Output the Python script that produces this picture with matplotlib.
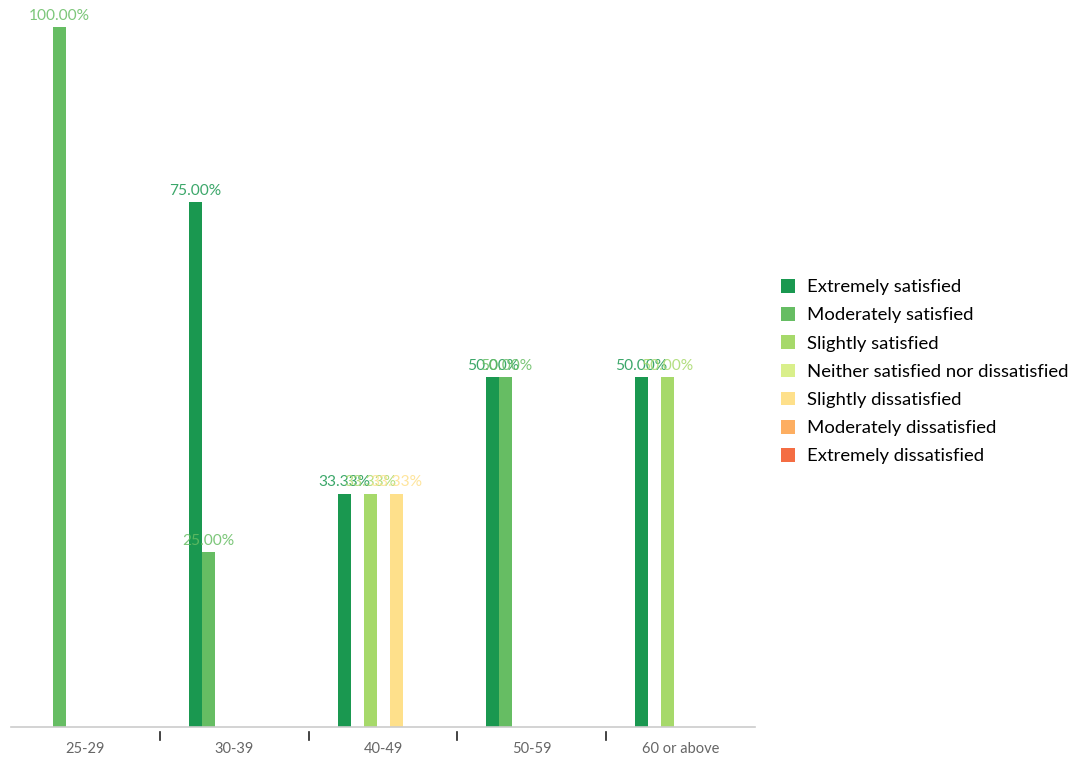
import matplotlib.pyplot as plt
import numpy as np

plt.rcParams["font.family"] = ["Lato", "DejaVu Sans"]

age_groups = ["25-29", "30-39", "40-49", "50-59", "60 or above"]
responses = [
    "Extremely satisfied",
    "Moderately satisfied",
    "Slightly satisfied",
    "Neither satisfied nor dissatisfied",
    "Slightly dissatisfied",
    "Moderately dissatisfied",
    "Extremely dissatisfied",
]
colors = ["#1a9850", "#66bd63", "#a6d96a", "#d9ef8b", "#fee08b", "#fdae61", "#f46d43"]

# percent of each age group giving each response (None = no responses)
extremely_satisfied = [None, 75.0, 33.33, 50.0, 50.0]
moderately_satisfied = [100.0, 25.0, None, 50.0, None]
slightly_satisfied = [None, None, 33.33, None, 50.0]
neither = [None, None, None, None, None]
slightly_dissatisfied = [None, None, 33.33, None, None]
moderately_dissatisfied = [None, None, None, None, None]
extremely_dissatisfied = [None, None, None, None, None]

series = [
    extremely_satisfied,
    moderately_satisfied,
    slightly_satisfied,
    neither,
    slightly_dissatisfied,
    moderately_dissatisfied,
    extremely_dissatisfied,
]

fig = plt.figure(figsize=(10.8, 7.57), dpi=100)
ax = fig.add_axes([11 / 1080, 30 / 757, 744 / 1080, 700 / 757])

bar_w = 13 / 148.8
centers = np.arange(len(age_groups)) + 0.5
n = len(responses)

for i, (name, vals, color) in enumerate(zip(responses, series, colors)):
    offset = (i - (n - 1) / 2) * bar_w
    for c, v in zip(centers, vals):
        if v is None:
            continue
        x = c + offset
        ax.bar(x, v, width=bar_w, color=color, linewidth=0)
        ax.text(x, v + 0.6, f"{v:.2f}%", ha="center", va="bottom",
                fontsize=11.2, color=color, alpha=0.85, clip_on=False)
    # legend handle
    ax.bar(0, 0, width=0, color=color, label=name)

ax.set_xlim(0, len(age_groups))
ax.set_ylim(0, 100)
ax.set_yticks([])
for side in ["left", "right", "top"]:
    ax.spines[side].set_visible(False)
ax.spines["bottom"].set_color("#cccccc")
ax.spines["bottom"].set_linewidth(1.2)

# boundary ticks between groups, names centred under each group
ax.set_xticks([])
for b in range(1, len(age_groups)):
    ax.plot([b, b], [-0.7, -1.8], color="#222222", linewidth=1.2,
            clip_on=False)
ax.set_xticks(centers, minor=True)
ax.set_xticklabels(age_groups, minor=True)
ax.tick_params(axis="x", which="minor", length=0, pad=11,
               labelsize=10.5, labelcolor="#666666")

handles, labels = ax.get_legend_handles_labels()
fig.legend(handles, labels, loc="center left", bbox_to_anchor=(0.708, 0.509),
           frameon=False, fontsize=13.3, handlelength=0.76, handleheight=0.76,
           handletextpad=0.65, labelspacing=0.645)

fig.savefig("out.png", dpi=100)
